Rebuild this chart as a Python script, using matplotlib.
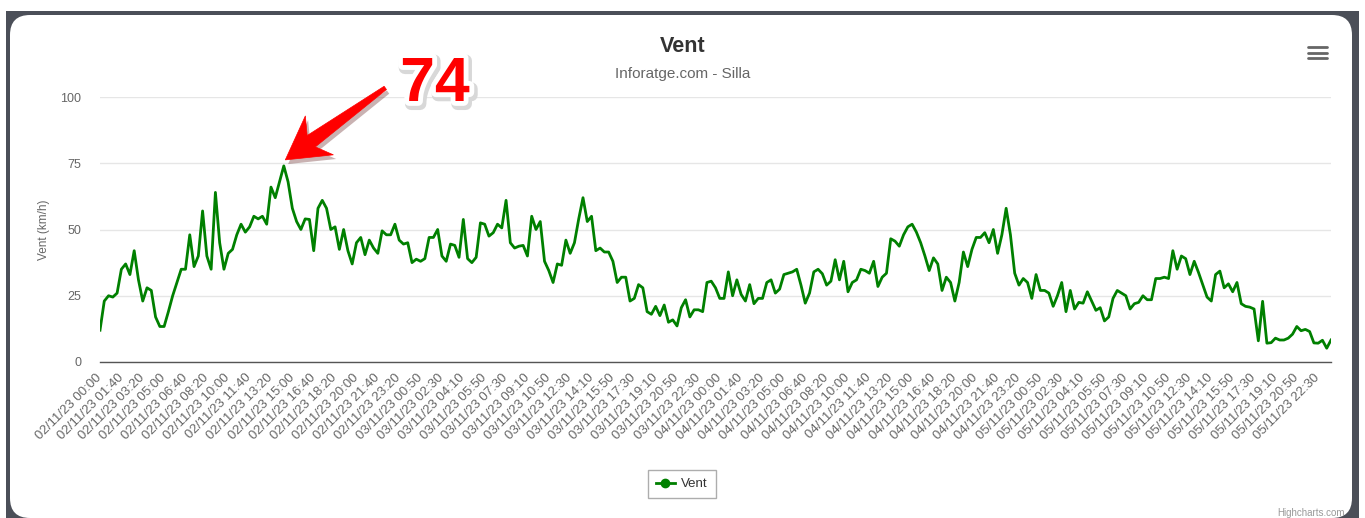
import matplotlib
matplotlib.use('Agg')
import matplotlib.pyplot as plt
import matplotlib.patheffects as pe
from matplotlib.patches import FancyBboxPatch, Rectangle, Polygon
from matplotlib.lines import Line2D
from matplotlib.transforms import IdentityTransform
import numpy as np

plt.rcParams['font.family'] = ['Liberation Sans', 'DejaVu Sans']

title = "Vent"
subtitle = "Inforatge.com - Silla"
series_name = "Vent"
y_title = "Vent (km/h)"
peak_text = "74"
credit = "Highcharts.com"

# wind speed (km/h), one value every 20 minutes from 02/11/23 00:00
wind = [
    12, 23, 25, 24.5, 26, 35, 37, 33, 42, 31,
    23, 28, 27, 17, 13.4, 13.4, 19, 25, 30, 35,
    35, 48, 36, 40, 57, 40, 35, 64, 45, 35,
    41, 42.5, 48, 52, 49, 51, 55, 54, 55, 52,
    66, 62, 68, 74, 68, 58, 53,
    50, 54, 53.8, 42, 58, 61, 58, 50, 51, 42.5,
    50, 42, 37, 45, 47, 40.5, 46, 43, 41, 49.5,
    48, 48, 52, 46, 44.5, 45, 37.5, 38.8, 38, 39,
    47, 47, 50, 40, 38, 44.5, 44, 39.5, 53.8, 39,
    37.5, 39.5, 52.5, 52, 47.5, 48.8, 52,
    50.6, 61, 45, 43, 43.7, 44,
    40, 55, 50, 53, 38, 34.5, 30, 37, 36.5, 46,
    41, 45, 54, 62, 53, 55, 42, 43, 41.5, 41.5,
    38, 30, 32, 32, 23, 24, 29.2, 28, 19, 18,
    21, 17.5, 21.5, 15, 15.9, 13.6, 20.5, 23.5, 17, 19.7,
    19.7,
    19, 30, 30.5, 28, 24, 24, 34, 25, 31,
    25.5, 23, 29.2, 22, 24, 24, 30, 31, 26, 27.5,
    33, 33.5, 34, 35, 29, 22.2, 26, 34, 35, 33.3,
    29, 30.5, 38.6, 31, 38, 26.5, 30, 31, 35, 34.5,
    33.5, 38, 28.5, 32, 33.5, 46.5, 45.6,
    43.7, 48, 51, 52, 49, 45, 40, 34.5, 39.3, 37,
    27, 32, 30, 23, 30, 41.5, 36, 42.5, 47, 47,
    48.8, 45, 50, 41, 48, 58, 48, 33.5, 29, 31.5,
    30, 24, 33, 27, 27, 26, 21, 25, 30, 19,
    27, 20, 22.5, 22.2, 26.5, 23, 19.5,
    20.5, 15.5, 17, 24, 27, 26, 25, 20, 22, 22.5,
    25, 23.5, 23.5, 31.5, 31.5, 32, 31.5, 42, 35, 40,
    39, 33, 38, 33.8, 29.2, 24.5, 23, 33, 34.3, 28,
    29.5, 26.5, 30, 22, 21, 20.7, 20, 8, 22.9, 7.1,
    7.3, 9, 8.3, 8.3, 9, 10.5, 13.4, 11.8, 12.3, 11.5,
    7.2, 7.1, 8.2, 5.2, 8.3,
]

days = ["02/11/23", "03/11/23", "04/11/23", "05/11/23"]
times_even = ["00:00", "01:40", "03:20", "05:00", "06:40", "08:20", "10:00", "11:40",
              "13:20", "15:00", "16:40", "18:20", "20:00", "21:40", "23:20"]
times_odd = ["00:50", "02:30", "04:10", "05:50", "07:30", "09:10", "10:50",
             "12:30", "14:10", "15:50", "17:30", "19:10", "20:50", "22:30"]
tick_labels = ([f"{days[0]} {t}" for t in times_even] + [f"{days[1]} {t}" for t in times_odd]
               + [f"{days[2]} {t}" for t in times_even] + [f"{days[3]} {t}" for t in times_odd])
tick_every = 5
y_ticks = [0, 25, 50, 75, 100]

W, H = 1365, 518
fig = plt.figure(figsize=(W / 100, H / 100), dpi=100)
fig.patch.set_facecolor('white')

# card frame
frame = Rectangle((6, 0), 1353, 507, transform=IdentityTransform(),
                  facecolor='#4b4f58', edgecolor='none', zorder=-20)
fig.add_artist(frame)
card = FancyBboxPatch((10, 0), 1342, 503, boxstyle='round,pad=0,rounding_size=20',
                      transform=IdentityTransform(), facecolor='white',
                      edgecolor='none', zorder=-19)
fig.add_artist(card)

ax = fig.add_axes([100 / W, 1 - 362 / H, (1331 - 100) / W, (362 - 97) / H])
ax.set_facecolor('none')
x = np.arange(len(wind))
ax.plot(x, wind, color='#008000', lw=2, solid_joinstyle='round', zorder=3)
ax.set_xlim(0, len(wind) - 1)
ax.set_ylim(0, 100)
ax.set_yticks(y_ticks)
ax.set_yticklabels([str(v) for v in y_ticks])
ax.grid(axis='y', color='#e6e6e6', lw=1)
ax.set_axisbelow(True)
for s in ['left', 'right', 'top']:
    ax.spines[s].set_visible(False)
ax.spines['bottom'].set_color('#555555')
ax.spines['bottom'].set_linewidth(1)

tick_pos = np.arange(len(tick_labels)) * tick_every
ax.set_xticks(tick_pos)
ax.set_xticklabels(tick_labels, rotation=45, ha='right', va='center',
                   rotation_mode='anchor', fontsize=9.5, color='#666666')
ax.tick_params(axis='x', length=0, pad=10)
ax.tick_params(axis='y', length=0, pad=13.5, labelsize=9, labelcolor='#666666')

fig.text(44 / W, 1 - 230 / H, y_title, rotation=90, ha='center', va='center',
         fontsize=8.5, color='#666666')
fig.text(683 / W, 1 - 46 / H, title, ha='center', va='center', fontsize=15.5,
         fontweight='bold', color='#333333')
fig.text(683 / W, 1 - 74 / H, subtitle, ha='center', va='center', fontsize=11,
         color='#666666')
fig.text(1345 / W, 1 - 513 / H, credit, ha='right', va='center', fontsize=7,
         color='#999999')

# menu icon
for yy in (47, 52.5, 58):
    fig.add_artist(Line2D([1308, 1327], [H - yy, H - yy], transform=IdentityTransform(),
                          color='#666666', lw=2, solid_capstyle='round'))

# legend
handle = Line2D([], [], color='#008000', lw=2, marker='o', markersize=6)
leg = fig.legend([handle], [series_name], loc='center', bbox_to_anchor=(682 / W, 1 - 484 / H),
                 fancybox=False, edgecolor='#999999', fontsize=9.5, handlelength=1.4,
                 handletextpad=0.5, borderpad=0.6, labelcolor='#333333')
leg.get_frame().set_linewidth(1)

# annotation arrow (pixel geometry relative to the peak point)
peak_idx = int(np.argmax(wind))
peak_val = wind[peak_idx]
px, py = ax.transData.transform((peak_idx, peak_val))
tip = np.array([px + 1.5, py + 6.0])
tail = tip + np.array([100.0, 72.0])
u = (tail - tip) / np.linalg.norm(tail - tip)
n = np.array([-u[1], u[0]])
head_len, head_half, neck_half, tail_half = 42.0, 24.0, 7.0, 2.0
base = tip + u * head_len
neck = tip + u * (head_len - 10)
arrow_pts = [tip, base + n * head_half, neck + n * neck_half, tail + n * tail_half,
             tail - n * tail_half, neck - n * neck_half, base - n * head_half]
arrow = Polygon(arrow_pts, closed=True, transform=IdentityTransform(), facecolor='#ff0000',
                edgecolor='#ff0000', lw=0.5, zorder=6,
                path_effects=[pe.SimplePatchShadow(offset=(2, -3), alpha=0.3), pe.Normal()])
fig.add_artist(arrow)

fig.text(435 / W, 1 - 101 / H, peak_text, ha='center', va='baseline', fontsize=45,
         fontweight='bold', color='#ff0000',
         path_effects=[pe.Stroke(linewidth=9, foreground='#d8d8d8', offset=(1.5, -2)),
                       pe.Stroke(linewidth=7, foreground='white'), pe.Normal()])

fig.savefig('out.png', dpi=100)
